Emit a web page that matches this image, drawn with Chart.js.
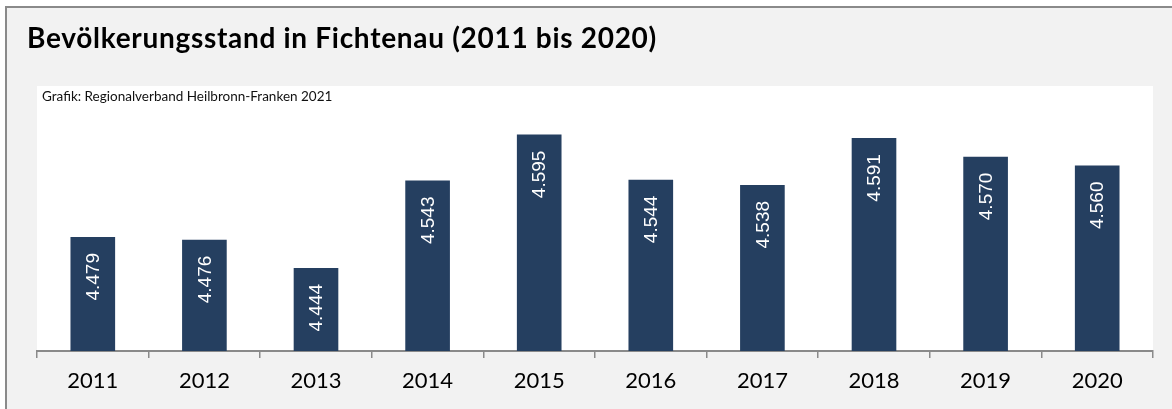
<!DOCTYPE html>
<html>
<head>
<meta charset="utf-8">
<script src="https://cdn.jsdelivr.net/npm/chart.js@4"></script>
<style>
  html, body { margin: 0; padding: 0; background: #fff; overflow: hidden; width: 1172px; height: 409px; }
  #frame {
    position: absolute; left: 5px; top: 6px; width: 1200px; height: 420px;
    background: #f2f2f2; border-left: 2px solid #8a8a8a; border-top: 2px solid #8a8a8a;
    box-sizing: border-box;
  }
  #wrap { position: absolute; left: 0; top: 0; width: 1172px; height: 409px; z-index: 1; }
  .txt { position: absolute; z-index: 2; font-family: Lato, "Open Sans", sans-serif; color: #000; white-space: nowrap; }
  #title { left: 27px; top: 23px; font-size: 28px; line-height: 28px; letter-spacing: 0.7px; font-weight: bold; }
  #source { left: 42px; top: 89.5px; font-size: 13.5px; line-height: 13.5px; color: #111; }
</style>
</head>
<body>
<div id="frame"></div>
<div id="title" class="txt">Bevölkerungsstand in Fichtenau (2011 bis 2020)</div>
<div id="source" class="txt">Grafik: Regionalverband Heilbronn-Franken 2021</div>
<div id="wrap"><canvas id="chart" width="1172" height="409"></canvas></div>
<script>
// Data
const years = ['2011', '2012', '2013', '2014', '2015', '2016', '2017', '2018', '2019', '2020'];
const population = [4479, 4476, 4444, 4543, 4595, 4544, 4538, 4591, 4570, 4560];

const barColor = '#253f60';

// white plot area behind the bars
const plotBackground = {
    id: 'plotBackground',
    beforeDraw(chart) {
        const { ctx, chartArea } = chart;
        ctx.save();
        ctx.fillStyle = '#ffffff';
        ctx.fillRect(chartArea.left, chartArea.top, chartArea.right - chartArea.left, chartArea.bottom - chartArea.top);
        ctx.restore();
    }
};

// rotated value labels inside the bar tops
const valueLabels = {
    id: 'valueLabels',
    afterDatasetsDraw(chart) {
        const ctx = chart.ctx;
        const meta = chart.getDatasetMeta(0);
        ctx.save();
        ctx.fillStyle = '#ffffff';
        ctx.font = '19px "Liberation Sans", Arial, sans-serif';
        ctx.textAlign = 'right';
        ctx.textBaseline = 'middle';
        meta.data.forEach((bar, i) => {
            const label = population[i].toLocaleString('de-DE');
            ctx.save();
            ctx.translate(bar.x + 1, bar.y + 16);
            ctx.rotate(-Math.PI / 2);
            ctx.fillText(label, 0, 0);
            ctx.restore();
        });
        ctx.restore();
    }
};

new Chart(document.getElementById('chart').getContext('2d'), {
    type: 'bar',
    data: {
        labels: years,
        datasets: [{
            data: population,
            backgroundColor: barColor,
            barPercentage: 0.4,
            categoryPercentage: 1.0
        }]
    },
    options: {
        responsive: false,
        animation: false,
        layout: { padding: { left: 37, right: 19, top: 86, bottom: 0 } },
        plugins: {
            legend: { display: false },
            tooltip: { enabled: false }
        },
        scales: {
            x: {
                afterFit(scale) { scale.height = 58; },
                grid: {
                    drawOnChartArea: false,
                    drawTicks: true,
                    tickLength: 7,
                    color: '#8a8a8a',
                    lineWidth: 1.5
                },
                border: { color: '#8a8a8a', width: 2 },
                ticks: {
                    color: '#000',
                    padding: 10,
                    font: { family: 'Lato, "Open Sans", sans-serif', size: 22 }
                }
            },
            y: {
                display: false,
                min: 4350,
                max: 4650
            }
        }
    },
    plugins: [plotBackground, valueLabels]
});
</script>
</body>
</html>
